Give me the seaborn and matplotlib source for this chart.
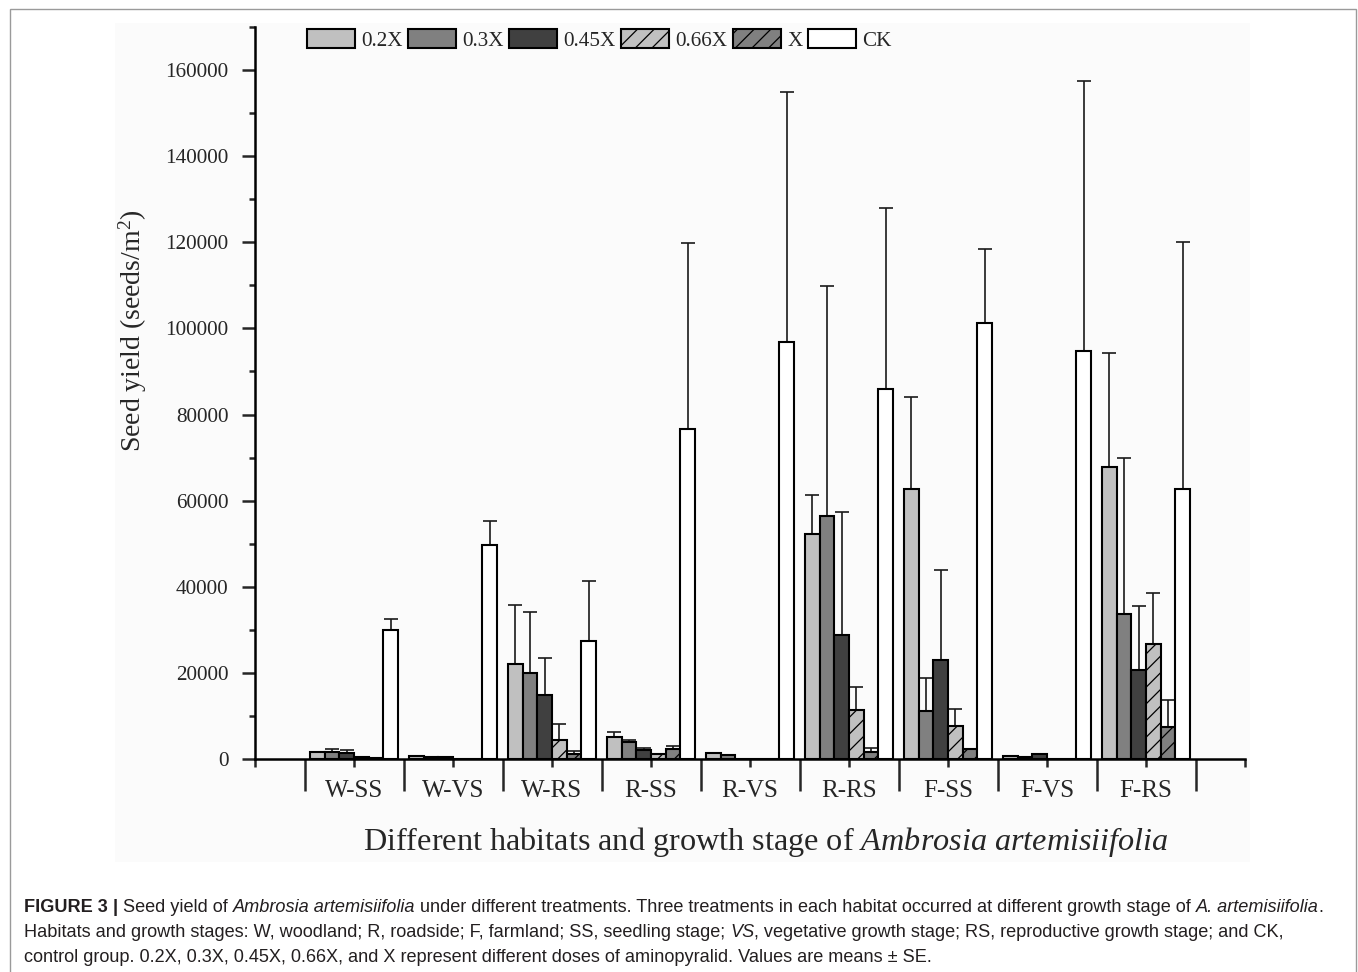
import numpy as np
import pandas as pd
import matplotlib
matplotlib.use("Agg")
import matplotlib.pyplot as plt
from matplotlib.patches import Patch, Rectangle
from matplotlib.ticker import MultipleLocator, FixedLocator
import seaborn as sns

# ---------------- data ----------------
categories = ['W-SS', 'W-VS', 'W-RS', 'R-SS', 'R-VS', 'R-RS', 'F-SS', 'F-VS', 'F-RS']
treatments = ['0.2X', '0.3X', '0.45X', '0.66X', 'X', 'CK']

mean_02x = [1600, 800, 22000, 5000, 1500, 52200, 62600, 800, 67700]
mean_03x = [1700, 500, 19900, 3900, 1000, 56400, 11100, 400, 33600]
mean_045x = [1500, 400, 14800, 2000, 0, 28800, 23000, 1200, 20600]
mean_066x = [400, 0, 4400, 1100, 0, 11400, 7700, 0, 26700]
mean_x = [300, 0, 1200, 2300, 0, 1600, 2300, 0, 7500]
mean_ck = [29900, 49600, 27400, 76600, 96900, 86000, 101300, 94800, 62800]

se_02x = [0, 0, 13700, 1300, 0, 9000, 21400, 0, 26500]
se_03x = [600, 0, 14200, 500, 0, 53500, 7800, 0, 36200]
se_045x = [600, 0, 8600, 600, 0, 28500, 20800, 0, 14900]
se_066x = [0, 0, 3700, 0, 0, 5300, 3900, 0, 11800]
se_x = [0, 0, 600, 700, 0, 900, 0, 0, 6100]
se_ck = [2600, 5600, 13900, 43300, 58000, 42000, 17200, 62700, 57200]

means = [mean_02x, mean_03x, mean_045x, mean_066x, mean_x, mean_ck]
ses = [se_02x, se_03x, se_045x, se_066x, se_x, se_ck]

colors = ['#c0c0c0', '#808080', '#404040', '#c0c0c0', '#808080', '#ffffff']
hatches = ['', '', '', '//', '//', '']

ytick_values = [0, 20000, 40000, 60000, 80000, 100000, 120000, 140000, 160000]

caption_lines = [
    [("FIGURE 3 ", "normal", "bold"), ("| ", "normal", "bold"), ("Seed yield of ", "normal", "normal"),
     ("Ambrosia artemisiifolia", "italic", "normal"),
     (" under different treatments. Three treatments in each habitat occurred at different growth stage of ", "normal", "normal"),
     ("A. artemisiifolia", "italic", "normal"), (".", "normal", "normal")],
    [("Habitats and growth stages: W, woodland; R, roadside; F, farmland; SS, seedling stage; ", "normal", "normal"),
     ("VS", "italic", "normal"),
     (", vegetative growth stage; RS, reproductive growth stage; and CK,", "normal", "normal")],
    [("control group. 0.2X, 0.3X, 0.45X, 0.66X, and X represent different doses of aminopyralid. Values are means \u00b1 SE.", "normal", "normal")],
]

# ---------------- style ----------------
sns.set_style("ticks")
plt.rcParams['font.family'] = ['Liberation Serif', 'DejaVu Serif']
plt.rcParams['mathtext.fontset'] = 'custom'
plt.rcParams['mathtext.rm'] = 'Liberation Serif'
plt.rcParams['mathtext.it'] = 'Liberation Serif:italic'
plt.rcParams['hatch.linewidth'] = 0.9
plt.rcParams['hatch.color'] = 'black'

W, H = 1358, 972
fig = plt.figure(figsize=(W / 100, H / 100), dpi=100)
fig.patch.set_facecolor('white')

# faint panel background and outer frame
fig.patches.append(Rectangle((115 / W, 1 - 862 / H), (1250 - 115) / W, (862 - 23) / H,
                             transform=fig.transFigure, facecolor='#fbfbfb', edgecolor='none', zorder=-10))
fig.patches.append(Rectangle((10 / W, -0.05), (1356 - 10) / W, 1 - 9.5 / H + 0.05,
                             transform=fig.transFigure, facecolor='none', edgecolor='#9a9a9a',
                             linewidth=1.0, zorder=-9))

ax_left, ax_right, ax_bottom, ax_top = 255, 1245, 759, 27
ax = fig.add_axes([ax_left / W, 1 - ax_bottom / H, (ax_right - ax_left) / W, (ax_bottom - ax_top) / H])
ax.set_facecolor('none')

rows = []
for t, vals in zip(treatments, means):
    for c, v in zip(categories, vals):
        rows.append({'habitat': c, 'treatment': t, 'yield': v})
df = pd.DataFrame(rows)

sns.barplot(data=df, x='habitat', y='yield', hue='treatment', order=categories,
            hue_order=treatments, palette=dict(zip(treatments, colors)), saturation=1,
            width=0.89, gap=0, errorbar=None, edgecolor='black', linewidth=1.5,
            legend=False, ax=ax, zorder=2)

bar_containers = list(ax.containers)[:len(treatments)]
for i, cont in enumerate(bar_containers):
    xs, ys, es = [], [], []
    for bar, e in zip(cont, ses[i]):
        bar.set_hatch(hatches[i])
        bar.set_edgecolor('black')
        if e > 0:
            xs.append(bar.get_x() + bar.get_width() / 2)
            ys.append(bar.get_height())
            es.append(e)
    if xs:
        ax.errorbar(xs, ys, yerr=[np.zeros(len(es)), es], fmt='none', ecolor='#1a1a1a',
                    elinewidth=1.2, capsize=5.3, capthick=1.2, zorder=1)

# axes
ax.set_xlim(-1, 9)
ax.set_ylim(0, 170000)
for s in ['top', 'right']:
    ax.spines[s].set_visible(False)
for s in ['left', 'bottom']:
    ax.spines[s].set_linewidth(1.8)
    ax.spines[s].set_color('black')

ax.yaxis.set_major_locator(FixedLocator(ytick_values))
ax.yaxis.set_minor_locator(MultipleLocator(10000))
ax.set_yticklabels([str(v) for v in ytick_values])
ax.tick_params(axis='y', which='major', direction='out', length=9.5, width=1.8, pad=9.5, labelsize=15.3)
ax.tick_params(axis='y', which='minor', direction='out', length=4.5, width=1.8)

xt = list(range(-1, 10))
ax.xaxis.set_major_locator(FixedLocator(xt))
ax.set_xticklabels([''] + categories + [''])
ax.xaxis.set_minor_locator(FixedLocator(np.arange(-0.5, 9, 1.0)))
ax.tick_params(axis='x', which='major', direction='out', length=6, width=1.8, pad=9, labelsize=18)
ax.tick_params(axis='x', which='minor', direction='out', length=23, width=1.8)

ax.set_ylabel('Seed yield (seeds/m$^{2}$)', fontsize=20, va='center')
ax.yaxis.set_label_coords((133 - ax_left) / (ax_right - ax_left), (ax_bottom - 331) / (ax_bottom - ax_top))
ax.set_xlabel('Different habitats and growth stage of $\\mathit{Ambrosia\\ artemisiifolia}$',
              fontsize=23.2, va='center')
ax.xaxis.set_label_coords((766 - ax_left) / (ax_right - ax_left), (ax_bottom - 842) / (ax_bottom - ax_top))

handles = [Patch(facecolor=c, edgecolor='black', hatch=h, linewidth=1.5) for c, h in zip(colors, hatches)]
ax.legend(handles, treatments, loc='center left',
          bbox_to_anchor=((307 - ax_left) / (ax_right - ax_left), (ax_bottom - 40) / (ax_bottom - ax_top)),
          ncol=6, frameon=False, fontsize=15.2, handlelength=2.25, handleheight=0.95,
          handletextpad=0.3, columnspacing=0.28, borderpad=0, borderaxespad=0)

# ---------------- caption ----------------
renderer = fig.canvas.get_renderer()
cap_size = 13.05
cap_color = '#231f20'


def text_width(s, style, weight):
    t = fig.text(0, 0, s, fontsize=cap_size, family='Liberation Sans', style=style, weight=weight)
    w = t.get_window_extent(renderer).width
    t.remove()
    return w


space_w = text_width('x x', 'normal', 'normal') - text_width('xx', 'normal', 'normal')

line_y = [907, 932, 957]
for runs, yp in zip(caption_lines, line_y):
    x = 24.0
    for s, style, weight in runs:
        lead = len(s) - len(s.lstrip(' '))
        trail = len(s) - len(s.rstrip(' '))
        core = s.strip(' ')
        x += lead * space_w
        t = fig.text(x / W, 1 - yp / H, core, fontsize=cap_size, family='Liberation Sans',
                     style=style, weight=weight, va='center', ha='left', color=cap_color)
        x += t.get_window_extent(renderer).width + trail * space_w

fig.savefig('out.png', dpi=100)
